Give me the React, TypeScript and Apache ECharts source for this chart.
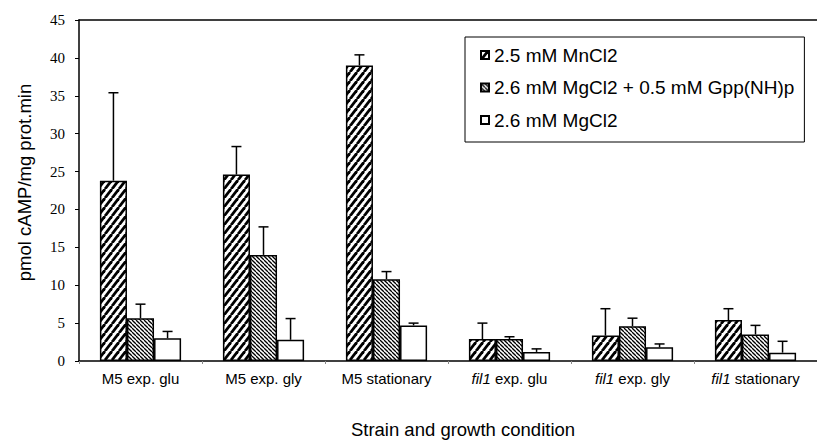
import React, { useEffect, useRef } from "react";
import * as echarts from "echarts";

const categories = [
  "M5 exp. glu",
  "M5 exp. gly",
  "M5 stationary",
  "fil1 exp. glu",
  "fil1 exp. gly",
  "fil1 stationary",
];
const seriesNames = [
  "2.5 mM MnCl2",
  "2.6 mM MgCl2 + 0.5 mM Gpp(NH)p",
  "2.6 mM MgCl2",
];
const mnCl2 = [23.8, 24.6, 39.0, 2.9, 3.35, 5.4];
const mnCl2Err = [35.4, 28.3, 40.4, 5.0, 6.9, 6.9];
const gppNHp = [5.65, 14.0, 10.8, 2.9, 4.6, 3.5];
const gppNHpErr = [7.5, 17.7, 11.8, 3.2, 5.65, 4.7];
const mgCl2 = [3.0, 2.8, 4.7, 1.2, 1.8, 1.1];
const mgCl2Err = [3.9, 5.6, 5.0, 1.6, 2.25, 2.6];
const yTicks = { min: 0, max: 45, interval: 5 };

function hatch(w: number, h: number, lw: number, dir: "/" | "\\") {
  const c = document.createElement("canvas");
  c.width = w;
  c.height = h;
  const ctx = c.getContext("2d")!;
  ctx.fillStyle = "#fff";
  ctx.fillRect(0, 0, w, h);
  ctx.strokeStyle = "#000";
  ctx.lineWidth = lw;
  for (let k = -1; k <= 1; k++) {
    ctx.beginPath();
    if (dir === "/") {
      ctx.moveTo(k * w, h);
      ctx.lineTo(k * w + w, 0);
    } else {
      ctx.moveTo(k * w, 0);
      ctx.lineTo(k * w + w, h);
    }
    ctx.stroke();
  }
  return c;
}

const BAR_RATIO = 0.22;

export default function App() {
  const ref = useRef<HTMLDivElement>(null);
  useEffect(() => {
    document.body.style.margin = "0";
    const chart = echarts.init(ref.current!, undefined, { renderer: "svg" });
    const fills = [
      { image: hatch(7, 9, 2.8, "/"), repeat: "repeat" },
      { image: hatch(4, 4, 1.3, "\\"), repeat: "repeat" },
      "#ffffff",
    ];
    const values = [mnCl2, gppNHp, mgCl2];
    const errs = [mnCl2Err, gppNHpErr, mgCl2Err];

    const barSeries = values.map((vals, i) => ({
      type: "bar",
      name: seriesNames[i],
      data: vals,
      barWidth: BAR_RATIO * 100 + "%",
      barGap: "0%",
      itemStyle: { color: fills[i], borderColor: "#000", borderWidth: 1.5 },
      emphasis: { disabled: true },
    }));

    const errSeries = values.map((vals, i) => ({
      type: "custom",
      name: "err" + i,
      silent: true,
      z: 1,
      data: vals.map((v, j) => [j, v, errs[i][j]]),
      renderItem: (params: any, api: any) => {
        const band = api.size([1, 0])[0];
        const bw = band * BAR_RATIO;
        const base = api.coord([api.value(0), api.value(1)]);
        const top = api.coord([api.value(0), api.value(2)]);
        const x = base[0] + (i - 1) * bw;
        const cap = 5;
        const style = { stroke: "#000", lineWidth: 1.5 };
        return {
          type: "group",
          children: [
            { type: "line", shape: { x1: x, y1: base[1], x2: x, y2: top[1] }, style },
            { type: "line", shape: { x1: x - cap, y1: top[1], x2: x + cap, y2: top[1] }, style },
          ],
        };
      },
    }));

    chart.setOption({
      animation: false,
      textStyle: { fontFamily: "Liberation Sans" },
      grid: { left: 79, top: 20, width: 744, height: 345 },
      legend: {
        data: seriesNames,
        orient: "vertical",
        left: 465,
        top: 37,
        itemWidth: 8,
        itemHeight: 8,
        itemGap: 12.5,
        padding: [8, 10, 12, 15],
        borderColor: "#000",
        borderWidth: 1,
        textStyle: { fontFamily: "Liberation Sans", fontSize: 19, lineHeight: 20, color: "#000" },
        selectedMode: false,
        icon: "rect",
      },
      xAxis: [
        {
          type: "category",
          data: categories,
          axisLine: { lineStyle: { color: "#000", width: 1.5 } },
          axisTick: { show: true, length: 3, lineStyle: { color: "#888" } },
          axisLabel: {
            interval: 0,
            margin: 10,
            color: "#000",
            fontSize: 15,
            fontFamily: "Liberation Sans",
            formatter: (v: string) =>
              v.startsWith("fil1") ? "{i|fil1}{n|" + v.slice(4) + "}" : "{n|" + v + "}",
            rich: {
              i: { fontStyle: "italic", fontSize: 15, fontFamily: "Liberation Sans", color: "#000" },
              n: { fontSize: 15, fontFamily: "Liberation Sans", color: "#000" },
            },
          },
          name: "Strain and growth condition",
          nameLocation: "middle",
          nameGap: 59,
          nameTextStyle: {
            fontSize: 18.5,
            color: "#000",
            fontFamily: "Liberation Sans",
            padding: [0, 0, 0, 30],
          },
        },
        {
          type: "category",
          position: "top",
          data: categories,
          axisLine: { lineStyle: { color: "#000", width: 1.5 } },
          axisTick: { show: false },
          axisLabel: { show: false },
        },
      ],
      yAxis: {
        type: "value",
        ...yTicks,
        axisLine: { show: true, lineStyle: { color: "#000", width: 1.5 } },
        axisTick: { show: true, length: 4, lineStyle: { color: "#000" } },
        splitLine: { show: false },
        axisLabel: { color: "#000", fontFamily: "Liberation Serif", fontSize: 15, margin: 14 },
        name: "pmol cAMP/mg prot.min",
        nameLocation: "middle",
        nameGap: 45,
        nameTextStyle: {
          fontSize: 18.5,
          color: "#000",
          fontFamily: "Liberation Sans",
          padding: [0, 0, 0, 16],
        },
      },
      series: [...errSeries, ...barSeries],
    });
    return () => chart.dispose();
  }, []);
  return <div ref={ref} style={{ width: 817, height: 444 }} />;
}
